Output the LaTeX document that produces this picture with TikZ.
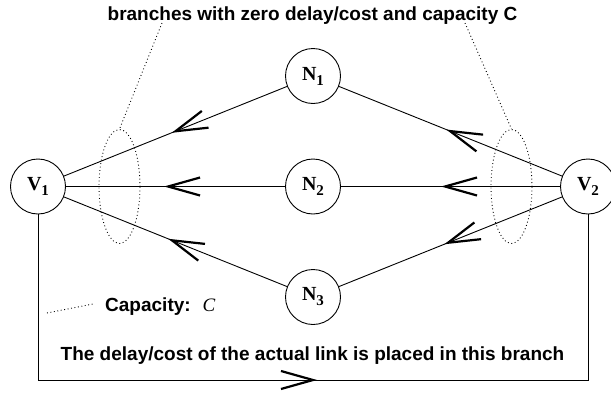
\documentclass[tikz,border=0pt]{standalone}
\usepackage{fontspec}
\setmainfont{Liberation Serif}
\setsansfont{Liberation Sans}
\usetikzlibrary{decorations.markings,shapes.geometric}
\newcommand\nodelab[2]{#1\raisebox{-5pt}{\fontsize{15}{15}\selectfont #2}}
\begin{document}
\begin{tikzpicture}[x=1pt,y=-1pt,
  vertex/.style={circle,draw,line width=0.9pt,minimum size=55pt,inner sep=0pt,
    font=\fontsize{20}{20}\selectfont\bfseries},
  link/.style={line width=0.9pt},
  dots/.style={line width=0.9pt,dash pattern=on 0.9pt off 2.6pt},
  lbl/.style={font=\sffamily\bfseries\fontsize{19}{22}\selectfont,inner sep=0pt},
  chev/.style={postaction={decorate,decoration={markings,
    mark=at position #1 with {\draw[line width=2.2pt,solid] (32pt,9pt) -- (0pt,0pt) -- (32pt,-9pt);}}}},
  fchev/.style={postaction={decorate,decoration={markings,
    mark=at position #1 with {\draw[line width=2.2pt,solid] (-32pt,9pt) -- (0pt,0pt) -- (-32pt,-9pt);}}}},
  zone/.style={ellipse,draw,dots,minimum width=41pt,minimum height=114pt,inner sep=0pt}
]
\useasboundingbox (0,0) rectangle (611,394);

% nodes
\node[vertex] (V1) at (38,186.5) {\nodelab{V}{1}};
\node[vertex] (V2) at (588,186.5) {\nodelab{V}{2}};
\node[vertex] (N1) at (313,76) {\nodelab{N}{1}};
\node[vertex] (N2) at (313,186.5) {\nodelab{N}{2}};
\node[vertex] (N3) at (313,297) {\nodelab{N}{3}};

% branches
\draw[link,chev=0.5]   (V1) -- (N1);
\draw[link,chev=0.466] (V1) -- (N2);
\draw[link,chev=0.484] (V1) -- (N3);
\draw[link,chev=0.498] (N1) -- (V2);
\draw[link,chev=0.475] (N2) -- (V2);
\draw[link,chev=0.489] (N3) -- (V2);

% bottom branch
\coordinate (BL) at (38,380);
\coordinate (BR) at (588,380);
\draw[link] (V1) -- (BL) -- (BR) -- (V2);
\path[fchev=0.5] (BL) -- (BR);

% dotted groups
\node[zone] (E1) at (119.5,186.5) {};
\node[zone] (E2) at (511.5,186.5) {};

% labels
\node[lbl,anchor=base] (title) at (312.5,20.5) {branches with zero delay/cost and capacity C};
\coordinate (T1) at (162,23);
\coordinate (T2) at (465,23);
\draw[dots] (T1) -- (E1.north);
\draw[dots] (T2) -- (E2.north);

\coordinate (C1) at (47,313);
\coordinate (C2) at (93,304);
\draw[dots] (C1) -- (C2);
\node[lbl,anchor=base west] (cap) at (105,311) {Capacity:\hspace{12pt}{\rmfamily\mdseries\itshape C}};

\node[lbl,anchor=base] (note) at (312.5,360) {The delay/cost of the actual link is placed in this branch};
\end{tikzpicture}
\end{document}
